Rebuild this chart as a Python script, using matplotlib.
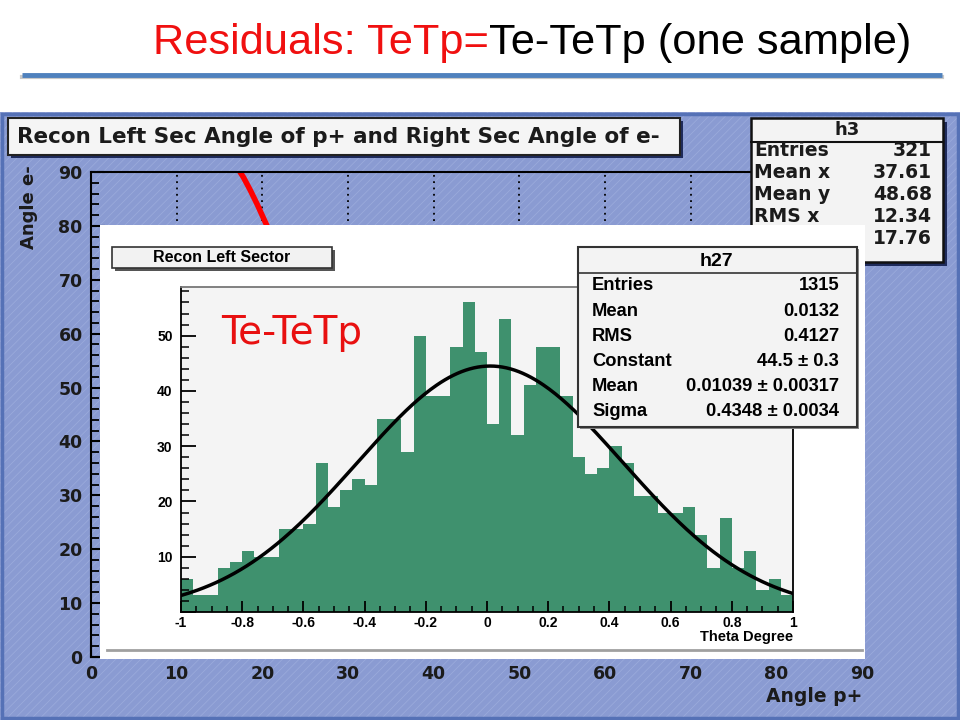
import matplotlib
matplotlib.use('Agg')
import matplotlib.pyplot as plt
import numpy as np
from matplotlib.patches import Rectangle
from matplotlib.ticker import MultipleLocator, FuncFormatter

plt.rcParams['axes.unicode_minus'] = False
plt.rcParams['hatch.linewidth'] = 0.6

# residual histogram (50 bins, -1..1)
bin_lo = np.linspace(-1, 0.96, 50)
counts = [6, 3, 3, 8, 9, 11, 10, 10, 15, 15,
          16, 27, 19, 22, 24, 23, 35, 35, 29, 50,
          39, 39, 48, 56, 47, 34, 53, 32, 41, 48,
          48, 39, 28, 25, 26, 30, 27, 21, 21, 18,
          18, 19, 14, 8, 17, 8, 11, 4, 6, 3]

# gaussian fit parameters from the stats box
fit_const = 44.5
fit_mean = 0.01039
fit_sigma = 0.4348

h27_labels = ['Entries', 'Mean', 'RMS', 'Constant', 'Mean', 'Sigma']
h27_values = ['1315', '0.0132', '0.4127', '44.5 ± 0.3', '0.01039 ± 0.00317', '0.4348 ± 0.0034']

# background 2D plot (mostly hidden)
angle_p = [17.4, 17.8, 18.2, 18.6, 19.0, 19.4, 19.8, 20.2, 20.6]
angle_e = [90, 89, 87.8, 86.6, 85.3, 84.0, 82.6, 81.2, 79.8]
h3_labels = ['Entries', 'Mean x', 'Mean y', 'RMS x', 'RMS y']
h3_values = ['321', '37.61', '48.68', '12.34', '17.76']

fig = plt.figure(figsize=(9.6, 7.2), dpi=100)


def layer(z):
    a = fig.add_axes([0, 0, 1, 1], zorder=z)
    a.set_xlim(0, 960)
    a.set_ylim(720, 0)
    a.axis('off')
    return a


def pxrect(x0, y0, x1, y1):
    return [x0 / 960, 1 - y1 / 720, (x1 - x0) / 960, (y1 - y0) / 720]


def box(a, x0, y0, x1, y1, fc, ec, lw, shadow=None, off=3):
    if shadow:
        a.add_patch(Rectangle((x0 + off, y0 + off), x1 - x0, y1 - y0, fc=shadow, ec='none'))
    a.add_patch(Rectangle((x0, y0), x1 - x0, y1 - y0, fc=fc, ec=ec, lw=lw))


# slide title + rule
L0 = layer(0)
t1 = L0.text(153, 54, 'Residuals: TeTp=', color='#f01010', fontsize=31.2,
             family='Liberation Sans', va='baseline')
L0.annotate('Te-TeTp (one sample)', xy=(1, 0), xycoords=t1, va='bottom', ha='left',
            fontsize=31.2, color='black', family='Liberation Sans')
L0.plot([22, 942], [77, 77], color='#c8c8c8', lw=3)
L0.plot([22, 942], [74.5, 74.5], color='#4f81bd', lw=3.5, solid_capstyle='butt')

# ROOT canvas background
L0.add_patch(Rectangle((0, 112), 960, 608, fc='#8a9bd2', ec='#9aaadb', lw=0, hatch='////'))
L0.add_patch(Rectangle((1.5, 113.5), 956, 604, fc='none', ec='#5571b6', lw=2.5))

# background 2D histogram frame
ax_big = fig.add_axes(pxrect(91, 172, 862, 657), zorder=1)
ax_big.set_facecolor('none')
ax_big.set_xlim(0, 90)
ax_big.set_ylim(0, 90)
ax_big.xaxis.set_major_locator(MultipleLocator(10))
ax_big.yaxis.set_major_locator(MultipleLocator(10))
ax_big.yaxis.set_minor_locator(MultipleLocator(2))
ax_big.tick_params(which='major', direction='in', length=10, width=1.5, pad=6,
                   labelsize=12.5, labelcolor='#1b1b1b')
ax_big.tick_params(which='minor', direction='in', length=6, width=1.3)
for lab in ax_big.get_xticklabels() + ax_big.get_yticklabels():
    lab.set_fontweight('bold')
    lab.set_family('DejaVu Sans')
ax_big.grid(True, which='major', ls=(0, (1, 2.5)), color='black', lw=1.3)
for s in ax_big.spines.values():
    s.set_linewidth(1.5)
ax_big.plot(angle_p, angle_e, color='red', lw=4, solid_capstyle='round')

# frame title, axis titles, stats box of the 2D plot
L1 = layer(2)
box(L1, 8, 118, 680, 155, fc='#f5f5f5', ec='#222222', lw=1.5, shadow='#1e2b5c', off=3)
L1.text(17, 137, 'Recon Left Sec Angle of p+ and Right Sec Angle of e-', fontsize=15.5,
        fontweight='bold', family='DejaVu Sans', color='#1b1b1b', va='center')
L1.text(862, 697, 'Angle p+', fontsize=13.5, fontweight='bold', family='DejaVu Sans',
        color='#1b1b1b', ha='right', va='center')
L1.text(29, 207, 'Angle e-', fontsize=13, fontweight='bold', family='DejaVu Sans',
        color='#1b1b1b', ha='center', va='center', rotation=90)
box(L1, 751, 118, 943, 262, fc='#f3f3f3', ec='#111111', lw=1.8, shadow='#1e2b5c', off=4)
L1.plot([751, 943], [142, 142], color='#111111', lw=1.5)
L1.text(847, 130, 'h3', fontsize=13, fontweight='bold', family='DejaVu Sans',
        ha='center', va='center', color='#1b1b1b')
for i, (lab, val) in enumerate(zip(h3_labels, h3_values)):
    y = 151 + 22 * i
    L1.text(754, y, lab, fontsize=13.5, fontweight='bold', family='DejaVu Sans',
            va='center', color='#1b1b1b')
    L1.text(932, y, val, fontsize=13.5, fontweight='bold', family='DejaVu Sans',
            va='center', ha='right', color='#1b1b1b')

# pasted inset with the residual histogram
L2 = layer(3)
L2.add_patch(Rectangle((100, 225), 765, 434, fc='white', ec='none'))
L2.plot([107, 862], [650, 650], color='#a0a0a0', lw=2)

ax = fig.add_axes(pxrect(181, 287, 793, 612), zorder=4)
ax.set_facecolor('#f4f4f4')
ax.bar(bin_lo, counts, width=0.04, align='edge', color='#3f916e', linewidth=0)
x_fit = np.linspace(-1, 1, 300)
y_fit = fit_const * np.exp(-0.5 * ((x_fit - fit_mean) / fit_sigma) ** 2)
ax.plot(x_fit, y_fit, color='black', lw=2.5)
ax.set_xlim(-1, 1)
ax.set_ylim(0, 58.8)
ax.xaxis.set_major_locator(MultipleLocator(0.2))
ax.xaxis.set_minor_locator(MultipleLocator(0.05))
ax.yaxis.set_major_locator(MultipleLocator(10))
ax.yaxis.set_minor_locator(MultipleLocator(2))
ax.xaxis.set_major_formatter(FuncFormatter(lambda v, p: f'{round(v, 2) + 0:g}'))
ax.yaxis.set_major_formatter(FuncFormatter(lambda v, p: '' if v == 0 else f'{v:g}'))
ax.tick_params(axis='x', which='major', direction='in', length=8, width=1.3, pad=3)
ax.tick_params(axis='x', which='minor', direction='in', length=4, width=1.1)
ax.tick_params(axis='y', which='major', direction='in', length=11, width=1.3, pad=6)
ax.tick_params(axis='y', which='minor', direction='in', length=6, width=1.1)
for lab in ax.get_xticklabels() + ax.get_yticklabels():
    lab.set_fontweight('bold')
    lab.set_family('Liberation Sans')
    lab.set_fontsize(10)
for side in ['left', 'right', 'bottom']:
    ax.spines[side].set_linewidth(1.3)
ax.spines['top'].set_color('#777777')
ax.spines['top'].set_linewidth(1.3)

L3 = layer(5)
L3.text(793, 637, 'Theta Degree', fontsize=10.5, fontweight='bold', family='Liberation Sans',
        ha='right', va='center')
box(L3, 112, 247, 332, 268, fc='#f2f2f2', ec='#333333', lw=1.2, shadow='#555555', off=2.5)
L3.text(222, 258, 'Recon Left Sector', fontsize=11.5, fontweight='bold',
        family='Liberation Sans', ha='center', va='center')
box(L3, 578, 247, 857, 427, fc='#f3f3f3', ec='#333333', lw=1.5, shadow='#888888', off=2)
L3.plot([578, 857], [273, 273], color='#333333', lw=1.2)
L3.text(716, 261, 'h27', fontsize=14, fontweight='bold', family='Liberation Sans',
        ha='center', va='center')
for i, (lab, val) in enumerate(zip(h27_labels, h27_values)):
    y = 286 + 25.2 * i
    L3.text(592, y, lab, fontsize=13.2, fontweight='bold', family='Liberation Sans', va='center')
    L3.text(839, y, val, fontsize=13.2, fontweight='bold', family='Liberation Sans',
            va='center', ha='right')
L3.text(221, 344, 'Te-TeTp', fontsize=28, color='#e81010', family='DejaVu Sans', va='baseline')

fig.savefig('out.png', dpi=100)
